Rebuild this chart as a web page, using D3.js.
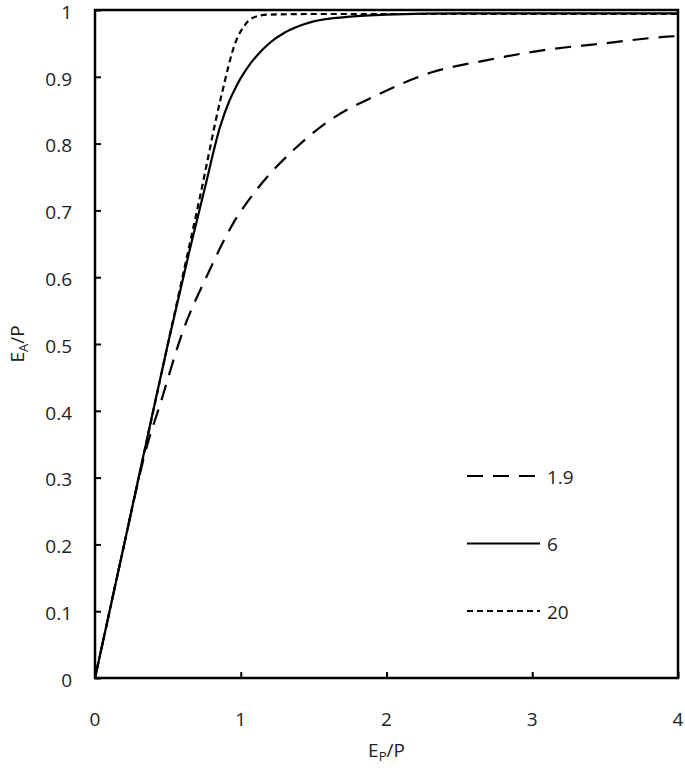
<!DOCTYPE html>
<html>
<head>
<meta charset="utf-8">
<script src="https://cdn.jsdelivr.net/npm/d3@7"></script>
<style>
  body { margin: 0; background: #fff; }
  svg text { font-family: "Open Sans", "Noto Sans", sans-serif; fill: #222; }
</style>
</head>
<body>
<div id="chart"></div>
<script>
const xTicks = [0, 1, 2, 3, 4];
const yTicks = [0, 0.1, 0.2, 0.3, 0.4, 0.5, 0.6, 0.7, 0.8, 0.9, 1];

// E_P/P vs E_A/P
const series19 = [[0,0],[0.1,0.1],[0.2,0.2],[0.355,0.346],[0.45,0.412],[0.606,0.521],[0.766,0.601],
  [0.949,0.681],[1.109,0.731],[1.36,0.79],[1.647,0.84],[1.91,0.87],[2.3,0.906],[2.69,0.925],
  [3.08,0.94],[3.49,0.95],[3.92,0.96],[4,0.961]];
const series6 = [[0,0],[0.2,0.2],[0.355,0.356],[0.5,0.5],[0.65,0.641],[0.75,0.73],[0.858,0.825],
  [0.92,0.863],[0.97,0.886],[1.0,0.898],[1.05,0.915],[1.1,0.929],[1.2,0.951],[1.3,0.966],
  [1.4,0.976],[1.5,0.983],[1.75,0.99],[2,0.993],[2.5,0.995],[3,0.995],[4,0.995]];
const series20 = [[0,0],[0.2,0.2],[0.4,0.4],[0.6,0.6],[0.72,0.72],[0.86,0.865],[0.97,0.955],
  [1.02,0.975],[1.08,0.988],[1.18,0.993],[1.5,0.994],[2,0.994],[3,0.994],[4,0.994]];

const legendLabels = ['1.9', '6', '20'];
const dashes = ['16,10', null, '6,4'];

const width = 685, height = 771;
const margin = {top: 10, right: 7, bottom: 93, left: 95};

const svg = d3.select('#chart').append('svg')
    .attr('width', width)
    .attr('height', height);

const x = d3.scaleLinear().domain([0, 4]).range([margin.left, width - margin.right]);
const y = d3.scaleLinear().domain([0, 1]).range([height - margin.bottom, margin.top]);

// inward ticks
svg.append('g')
    .attr('transform', `translate(0,${y(0)})`)
    .call(d3.axisTop(x).tickValues(xTicks).tickSize(6).tickFormat(''))
    .call(g => g.select('.domain').remove())
    .call(g => g.selectAll('line').attr('stroke', '#000').attr('stroke-width', 2));

svg.append('g')
    .attr('transform', `translate(${x(0)},0)`)
    .call(d3.axisRight(y).tickValues(yTicks).tickSize(6).tickFormat(''))
    .call(g => g.select('.domain').remove())
    .call(g => g.selectAll('line').attr('stroke', '#000').attr('stroke-width', 2));

// tick labels
svg.append('g').selectAll('text')
    .data(xTicks)
    .join('text')
    .attr('x', d => x(d))
    .attr('y', 726)
    .attr('text-anchor', 'middle')
    .attr('font-size', 19)
    .text(d => d);

svg.append('g').selectAll('text')
    .data(yTicks)
    .join('text')
    .attr('x', 72)
    .attr('y', d => y(d) + 2)
    .attr('dy', '0.36em')
    .attr('text-anchor', 'end')
    .attr('font-size', 19)
    .text(d => d);

// frame
svg.append('rect')
    .attr('x', x(0))
    .attr('y', y(1))
    .attr('width', x(4) - x(0))
    .attr('height', y(0) - y(1))
    .attr('fill', 'none')
    .attr('stroke', '#000')
    .attr('stroke-width', 2.5);

// curves
const line = d3.line()
    .x(d => x(d[0]))
    .y(d => y(d[1]))
    .curve(d3.curveMonotoneX);

[series19, series6, series20].forEach((s, i) => {
  svg.append('path')
      .datum(s)
      .attr('d', line)
      .attr('fill', 'none')
      .attr('stroke', '#000')
      .attr('stroke-width', 2.2)
      .attr('stroke-dasharray', dashes[i]);
});

// legend
const legend = svg.append('g');
legendLabels.forEach((lab, i) => {
  const ly = 476 + i * 67.5;
  legend.append('line')
      .attr('x1', 467).attr('x2', 540)
      .attr('y1', ly).attr('y2', ly)
      .attr('stroke', '#000')
      .attr('stroke-width', 2.2)
      .attr('stroke-dasharray', dashes[i]);
  legend.append('text')
      .attr('x', 547)
      .attr('y', ly + 1)
      .attr('dy', '0.36em')
      .attr('font-size', 19)
      .text(lab);
});

// axis titles
const xt = svg.append('text')
    .attr('x', x(2))
    .attr('y', 757)
    .attr('text-anchor', 'middle')
    .attr('font-size', 19);
xt.append('tspan').text('E');
xt.append('tspan').attr('font-size', 13).attr('dy', 4).text('P');
xt.append('tspan').attr('dy', -4).text('/P');

const yt = svg.append('text')
    .attr('transform', `translate(24,${y(0.5)}) rotate(-90)`)
    .attr('text-anchor', 'middle')
    .attr('font-size', 19);
yt.append('tspan').text('E');
yt.append('tspan').attr('font-size', 13).attr('dy', 4).text('A');
yt.append('tspan').attr('dy', -4).text('/P');
</script>
</body>
</html>
